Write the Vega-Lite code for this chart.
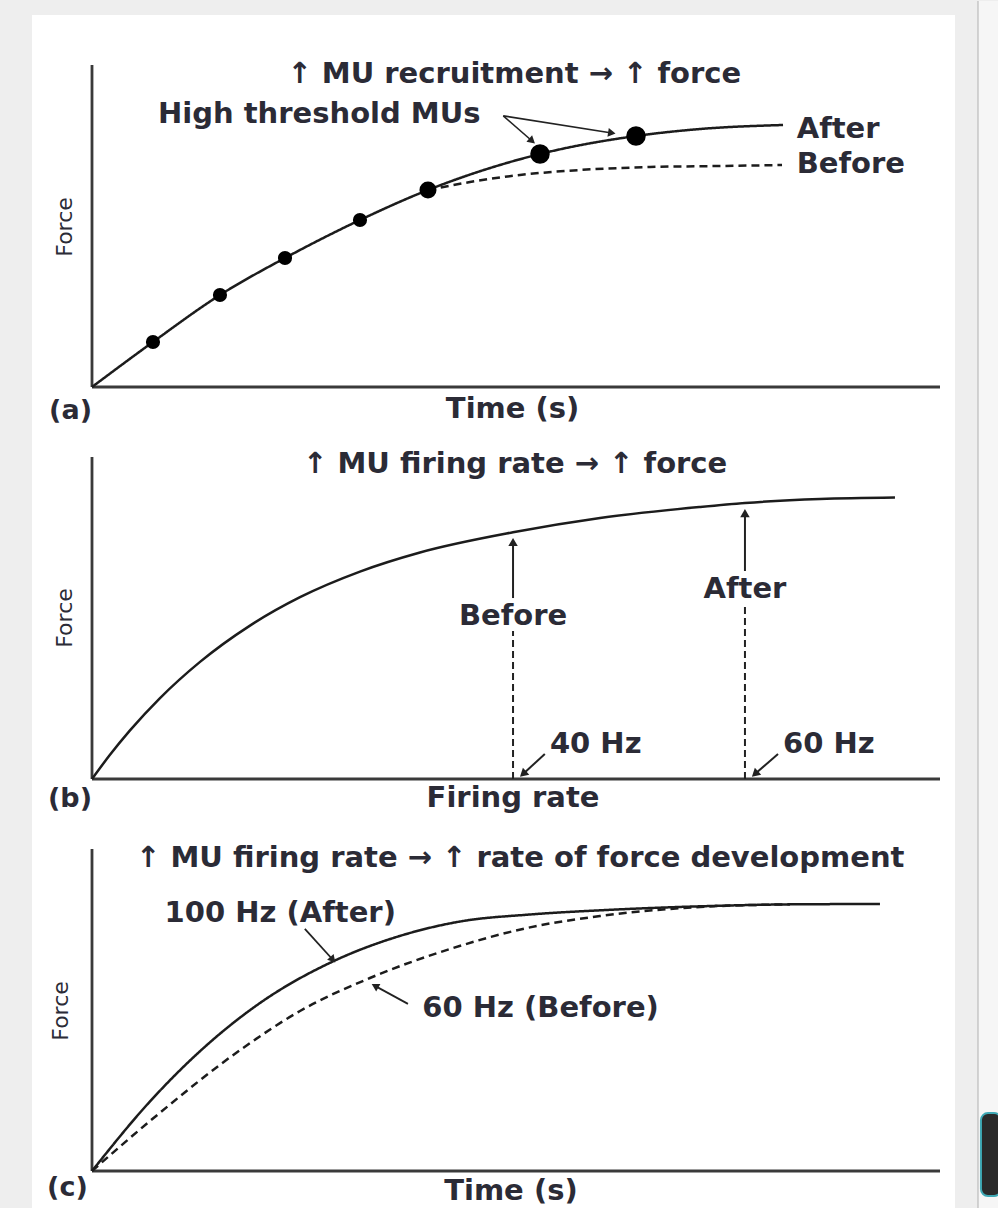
{
  "$schema": "https://vega.github.io/schema/vega-lite/v6.json",
  "background": "#eeeeee",
  "padding": 0,
  "bounds": "flush",
  "spacing": 70,
  "config": {"view": {"stroke": null}},
  "datasets": {
    "page": [{"x": -10.849, "y": 119.87, "x2": 106.84, "y2": -255.28}],
    "strip": [{"x": 104.48, "y": 119.87, "x2": 106.84, "y2": -255.28}],
    "strip_edge": [{"x": 104.48, "y": 119.87, "x2": 104.48, "y2": -255.28}],
    "a_card": [{"x": -7.075, "y": 115.53, "x2": 101.77, "y2": -21.74}],
    "b_card": [{"x": -7.075, "y": 100, "x2": 101.77, "y2": -21.74}],
    "c_card": [{"x": -7.075, "y": 100, "x2": 101.77, "y2": -11.79}],
    "c_button": [{"x": 104.83, "y": 18.0, "x2": 107.2, "y2": -7.76}],
    "frame": [{"x": 0, "y": 0, "x2": 100, "y2": 0}, {"x": 0, "y": 0, "x2": 0, "y2": 100}],
    "a_curves": [
      {"series": "After", "x": 0, "y": 0},
      {"series": "After", "x": 7.19, "y": 13.98},
      {"series": "After", "x": 15.09, "y": 28.57},
      {"series": "After", "x": 22.76, "y": 40.06},
      {"series": "After", "x": 31.6, "y": 51.86},
      {"series": "After", "x": 39.62, "y": 61.18},
      {"series": "After", "x": 52.83, "y": 72.36},
      {"series": "After", "x": 64.15, "y": 77.95},
      {"series": "After", "x": 71.7, "y": 80.12},
      {"series": "After", "x": 81.49, "y": 81.37},
      {"series": "Before", "x": 39.62, "y": 61.18},
      {"series": "Before", "x": 44.58, "y": 63.66},
      {"series": "Before", "x": 50.47, "y": 65.84},
      {"series": "Before", "x": 57.55, "y": 67.39},
      {"series": "Before", "x": 65.8, "y": 68.32},
      {"series": "Before", "x": 74.06, "y": 68.63},
      {"series": "Before", "x": 81.37, "y": 68.94}
    ],
    "a_dots": [
      {"x": 7.19, "y": 13.98, "threshold": "low"},
      {"x": 15.09, "y": 28.57, "threshold": "low"},
      {"x": 22.76, "y": 40.06, "threshold": "low"},
      {"x": 31.6, "y": 51.86, "threshold": "low"},
      {"x": 39.62, "y": 61.18, "threshold": "moderate"},
      {"x": 52.83, "y": 72.36, "threshold": "high"},
      {"x": 64.15, "y": 77.95, "threshold": "high"}
    ],
    "a_arrows": [
      {"x": 48.5, "y": 84.2, "x2": 51.9, "y2": 76.4, "angle": 131},
      {"x": 48.5, "y": 84.2, "x2": 61.3, "y2": 78.9, "angle": 99}
    ],
    "a_text": [
      {"role": "heading", "label": "↑ MU recruitment → ↑ force", "x": 49.8, "y": 97.2},
      {"role": "annotation", "label": "High threshold MUs", "x": 26.8, "y": 84.8},
      {"role": "end-label", "label": "After", "x": 83.1, "y": 80.1},
      {"role": "end-label", "label": "Before", "x": 83.1, "y": 69.3},
      {"role": "axis-title", "label": "Time (s)", "x": 49.6, "y": -6.8},
      {"role": "panel-label", "label": "(a)", "x": 0, "y": -7.4},
      {"role": "y-title", "label": "Force", "x": -3.2, "y": 49.7}
    ],
    "b_curve": [
      {"x": 0, "y": 0}, {"x": 2.12, "y": 7.52}, {"x": 4.48, "y": 15.09}, {"x": 8.02, "y": 25.12},
      {"x": 12.74, "y": 36.37}, {"x": 18.63, "y": 47.64}, {"x": 24.53, "y": 56.46}, {"x": 31.6, "y": 64.41},
      {"x": 38.68, "y": 70.34}, {"x": 49.65, "y": 76.61}, {"x": 59.91, "y": 81.06}, {"x": 71.7, "y": 84.47},
      {"x": 77.0, "y": 85.71}, {"x": 85.85, "y": 86.96}, {"x": 94.69, "y": 87.42}
    ],
    "b_guides": [
      {"x": 49.65, "y": 0, "x2": 49.65, "y2": 46.0},
      {"x": 77.0, "y": 0, "x2": 77.0, "y2": 54.3}
    ],
    "b_arrows": [
      {"x": 49.65, "y": 56.2, "x2": 49.65, "y2": 73.6, "angle": 0},
      {"x": 77.0, "y": 64.6, "x2": 77.0, "y2": 82.6, "angle": 0},
      {"x": 53.4, "y": 7.76, "x2": 50.83, "y2": 1.55, "angle": 228},
      {"x": 80.9, "y": 7.76, "x2": 78.18, "y2": 1.55, "angle": 228}
    ],
    "b_text": [
      {"role": "heading", "label": "↑ MU firing rate → ↑ force", "x": 49.9, "y": 97.8},
      {"role": "annotation", "label": "Before", "x": 49.65, "y": 50.6},
      {"role": "annotation", "label": "After", "x": 77.0, "y": 59.0},
      {"role": "value-label", "label": "40 Hz", "x": 54.0, "y": 10.9},
      {"role": "value-label", "label": "60 Hz", "x": 81.5, "y": 10.9},
      {"role": "axis-title", "label": "Firing rate", "x": 49.65, "y": -5.9},
      {"role": "panel-label", "label": "(b)", "x": 0, "y": -6.2},
      {"role": "y-title", "label": "Force", "x": -3.2, "y": 50}
    ],
    "c_curves": [
      {"series": "After", "x": 0, "y": 0},
      {"series": "After", "x": 6.84, "y": 21.61},
      {"series": "After", "x": 12.97, "y": 37.76},
      {"series": "After", "x": 19.81, "y": 52.17},
      {"series": "After", "x": 28.42, "y": 65.09},
      {"series": "After", "x": 36.32, "y": 73.01},
      {"series": "After", "x": 43.4, "y": 77.48},
      {"series": "After", "x": 51.65, "y": 79.66},
      {"series": "After", "x": 59.91, "y": 80.96},
      {"series": "After", "x": 71.7, "y": 82.2},
      {"series": "After", "x": 83.49, "y": 82.83},
      {"series": "After", "x": 92.92, "y": 82.92},
      {"series": "Before", "x": 0, "y": 0},
      {"series": "Before", "x": 6.84, "y": 15.53},
      {"series": "Before", "x": 17.81, "y": 38.2},
      {"series": "Before", "x": 24.53, "y": 49.69},
      {"series": "Before", "x": 32.78, "y": 59.94},
      {"series": "Before", "x": 42.22, "y": 68.94},
      {"series": "Before", "x": 51.3, "y": 75.47},
      {"series": "Before", "x": 59.91, "y": 79.19},
      {"series": "Before", "x": 71.7, "y": 81.99},
      {"series": "Before", "x": 82.31, "y": 82.83}
    ],
    "c_arrows": [
      {"x": 25.1, "y": 75.2, "x2": 28.4, "y2": 65.6, "angle": 139},
      {"x": 37.26, "y": 51.9, "x2": 33.37, "y2": 57.5, "angle": 299}
    ],
    "c_text": [
      {"role": "heading", "label": "↑ MU firing rate → ↑ rate of force development", "x": 50.5, "y": 97.2},
      {"role": "annotation", "label": "100 Hz (After)", "x": 22.2, "y": 80.1},
      {"role": "annotation", "label": "60 Hz (Before)", "x": 52.9, "y": 50.6},
      {"role": "axis-title", "label": "Time (s)", "x": 49.4, "y": -6.2},
      {"role": "panel-label", "label": "(c)", "x": -0.5, "y": -5.3},
      {"role": "y-title", "label": "Force", "x": -3.6, "y": 49.7}
    ]
  },
  "vconcat": [
    {
      "width": 848, "height": 322,
      "encoding": {
        "x": {"field": "x", "type": "quantitative", "scale": {"domain": [0, 100], "nice": false, "zero": false}, "axis": null},
        "y": {"field": "y", "type": "quantitative", "scale": {"domain": [0, 100], "nice": false, "zero": false}, "axis": null}
      },
      "layer": [
        {"data": {"name": "page"}, "mark": {"type": "rect", "color": "#eeeeee"}, "encoding": {"x2": {"field": "x2"}, "y2": {"field": "y2"}}},
        {"data": {"name": "strip"}, "mark": {"type": "rect", "color": "#f6f6f6"}, "encoding": {"x2": {"field": "x2"}, "y2": {"field": "y2"}}},
        {"data": {"name": "strip_edge"}, "mark": {"type": "rule", "color": "#c6c6c6", "strokeWidth": 1.5}, "encoding": {"x2": {"field": "x2"}, "y2": {"field": "y2"}}},
        {"data": {"name": "a_card"}, "mark": {"type": "rect", "color": "#ffffff"}, "encoding": {"x2": {"field": "x2"}, "y2": {"field": "y2"}}},
        {"data": {"name": "frame"}, "mark": {"type": "rule", "color": "#3a3a3a", "strokeWidth": 2.8}, "encoding": {"x2": {"field": "x2"}, "y2": {"field": "y2"}}},
        {"data": {"name": "a_curves"}, "mark": {"type": "line", "interpolate": "monotone", "color": "#1c1c1c", "strokeWidth": 2.5},
         "encoding": {"strokeDash": {"field": "series", "type": "nominal", "scale": {"domain": ["After", "Before"], "range": [[1, 0], [8, 5]]}, "legend": null}}},
        {"data": {"name": "a_dots"}, "mark": {"type": "circle", "color": "#000000", "opacity": 1},
         "encoding": {"size": {"field": "threshold", "type": "ordinal", "scale": {"domain": ["low", "moderate", "high"], "range": [200, 380, 750]}, "legend": null}}},
        {"data": {"name": "a_arrows"}, "mark": {"type": "rule", "color": "#222222", "strokeWidth": 1.6}, "encoding": {"x2": {"field": "x2"}, "y2": {"field": "y2"}}},
        {"data": {"name": "a_arrows"}, "mark": {"type": "point", "shape": "triangle-up", "filled": true, "color": "#222222", "opacity": 1, "size": 75},
         "encoding": {
           "x": {"field": "x2", "type": "quantitative", "scale": {"domain": [0, 100], "nice": false, "zero": false}, "axis": null},
           "y": {"field": "y2", "type": "quantitative", "scale": {"domain": [0, 100], "nice": false, "zero": false}, "axis": null},
           "angle": {"field": "angle", "type": "quantitative", "scale": null}}},
        {"data": {"name": "a_text"}, "transform": [{"filter": {"field": "role", "oneOf": ["heading", "annotation", "axis-title"]}}],
         "mark": {"type": "text", "font": "DejaVu Sans", "fontWeight": "bold", "fontSize": 29, "color": "#2b2b36", "align": "center", "baseline": "middle"},
         "encoding": {"text": {"field": "label"}}},
        {"data": {"name": "a_text"}, "transform": [{"filter": {"field": "role", "oneOf": ["end-label", "value-label"]}}],
         "mark": {"type": "text", "font": "DejaVu Sans", "fontWeight": "bold", "fontSize": 29, "color": "#2b2b36", "align": "left", "baseline": "middle"},
         "encoding": {"text": {"field": "label"}}},
        {"data": {"name": "a_text"}, "transform": [{"filter": {"field": "role", "equal": "panel-label"}}],
         "mark": {"type": "text", "font": "DejaVu Sans", "fontWeight": "bold", "fontSize": 27, "color": "#2b2b36", "align": "right", "baseline": "middle"},
         "encoding": {"text": {"field": "label"}}},
        {"data": {"name": "a_text"}, "transform": [{"filter": {"field": "role", "equal": "y-title"}}],
         "mark": {"type": "text", "font": "DejaVu Sans", "fontSize": 22, "color": "#2b2b36", "align": "center", "baseline": "middle", "angle": 270},
         "encoding": {"text": {"field": "label"}}}
      ]
    },
    {
      "width": 848, "height": 322,
      "encoding": {
        "x": {"field": "x", "type": "quantitative", "scale": {"domain": [0, 100], "nice": false, "zero": false}, "axis": null},
        "y": {"field": "y", "type": "quantitative", "scale": {"domain": [0, 100], "nice": false, "zero": false}, "axis": null}
      },
      "layer": [
        {"data": {"name": "b_card"}, "mark": {"type": "rect", "color": "#ffffff"}, "encoding": {"x2": {"field": "x2"}, "y2": {"field": "y2"}}},
        {"data": {"name": "frame"}, "mark": {"type": "rule", "color": "#3a3a3a", "strokeWidth": 2.8}, "encoding": {"x2": {"field": "x2"}, "y2": {"field": "y2"}}},
        {"data": {"name": "b_curve"}, "mark": {"type": "line", "interpolate": "monotone", "color": "#1c1c1c", "strokeWidth": 2.5}, "encoding": {}},
        {"data": {"name": "b_guides"}, "mark": {"type": "rule", "color": "#222222", "strokeWidth": 2, "strokeDash": [7, 4]}, "encoding": {"x2": {"field": "x2"}, "y2": {"field": "y2"}}},
        {"data": {"name": "b_arrows"}, "mark": {"type": "rule", "color": "#222222", "strokeWidth": 2}, "encoding": {"x2": {"field": "x2"}, "y2": {"field": "y2"}}},
        {"data": {"name": "b_arrows"}, "mark": {"type": "point", "shape": "triangle-up", "filled": true, "color": "#222222", "opacity": 1, "size": 90},
         "encoding": {
           "x": {"field": "x2", "type": "quantitative", "scale": {"domain": [0, 100], "nice": false, "zero": false}, "axis": null},
           "y": {"field": "y2", "type": "quantitative", "scale": {"domain": [0, 100], "nice": false, "zero": false}, "axis": null},
           "angle": {"field": "angle", "type": "quantitative", "scale": null}}},
        {"data": {"name": "b_text"}, "transform": [{"filter": {"field": "role", "oneOf": ["heading", "annotation", "axis-title"]}}],
         "mark": {"type": "text", "font": "DejaVu Sans", "fontWeight": "bold", "fontSize": 29, "color": "#2b2b36", "align": "center", "baseline": "middle"},
         "encoding": {"text": {"field": "label"}}},
        {"data": {"name": "b_text"}, "transform": [{"filter": {"field": "role", "oneOf": ["end-label", "value-label"]}}],
         "mark": {"type": "text", "font": "DejaVu Sans", "fontWeight": "bold", "fontSize": 29, "color": "#2b2b36", "align": "left", "baseline": "middle"},
         "encoding": {"text": {"field": "label"}}},
        {"data": {"name": "b_text"}, "transform": [{"filter": {"field": "role", "equal": "panel-label"}}],
         "mark": {"type": "text", "font": "DejaVu Sans", "fontWeight": "bold", "fontSize": 27, "color": "#2b2b36", "align": "right", "baseline": "middle"},
         "encoding": {"text": {"field": "label"}}},
        {"data": {"name": "b_text"}, "transform": [{"filter": {"field": "role", "equal": "y-title"}}],
         "mark": {"type": "text", "font": "DejaVu Sans", "fontSize": 22, "color": "#2b2b36", "align": "center", "baseline": "middle", "angle": 270},
         "encoding": {"text": {"field": "label"}}}
      ]
    },
    {
      "width": 848, "height": 322,
      "encoding": {
        "x": {"field": "x", "type": "quantitative", "scale": {"domain": [0, 100], "nice": false, "zero": false}, "axis": null},
        "y": {"field": "y", "type": "quantitative", "scale": {"domain": [0, 100], "nice": false, "zero": false}, "axis": null}
      },
      "layer": [
        {"data": {"name": "c_card"}, "mark": {"type": "rect", "color": "#ffffff"}, "encoding": {"x2": {"field": "x2"}, "y2": {"field": "y2"}}},
        {"data": {"name": "c_button"}, "mark": {"type": "rect", "color": "#2a2a2a", "stroke": "#3fa9b5", "strokeWidth": 2, "cornerRadius": 7}, "encoding": {"x2": {"field": "x2"}, "y2": {"field": "y2"}}},
        {"data": {"name": "frame"}, "mark": {"type": "rule", "color": "#3a3a3a", "strokeWidth": 2.8}, "encoding": {"x2": {"field": "x2"}, "y2": {"field": "y2"}}},
        {"data": {"name": "c_curves"}, "mark": {"type": "line", "interpolate": "monotone", "color": "#1c1c1c", "strokeWidth": 2.5},
         "encoding": {"strokeDash": {"field": "series", "type": "nominal", "scale": {"domain": ["After", "Before"], "range": [[1, 0], [8, 5]]}, "legend": null}}},
        {"data": {"name": "c_arrows"}, "mark": {"type": "rule", "color": "#222222", "strokeWidth": 1.8}, "encoding": {"x2": {"field": "x2"}, "y2": {"field": "y2"}}},
        {"data": {"name": "c_arrows"}, "mark": {"type": "point", "shape": "triangle-up", "filled": true, "color": "#222222", "opacity": 1, "size": 75},
         "encoding": {
           "x": {"field": "x2", "type": "quantitative", "scale": {"domain": [0, 100], "nice": false, "zero": false}, "axis": null},
           "y": {"field": "y2", "type": "quantitative", "scale": {"domain": [0, 100], "nice": false, "zero": false}, "axis": null},
           "angle": {"field": "angle", "type": "quantitative", "scale": null}}},
        {"data": {"name": "c_text"}, "transform": [{"filter": {"field": "role", "oneOf": ["heading", "annotation", "axis-title"]}}],
         "mark": {"type": "text", "font": "DejaVu Sans", "fontWeight": "bold", "fontSize": 29, "color": "#2b2b36", "align": "center", "baseline": "middle"},
         "encoding": {"text": {"field": "label"}}},
        {"data": {"name": "c_text"}, "transform": [{"filter": {"field": "role", "equal": "panel-label"}}],
         "mark": {"type": "text", "font": "DejaVu Sans", "fontWeight": "bold", "fontSize": 27, "color": "#2b2b36", "align": "right", "baseline": "middle"},
         "encoding": {"text": {"field": "label"}}},
        {"data": {"name": "c_text"}, "transform": [{"filter": {"field": "role", "equal": "y-title"}}],
         "mark": {"type": "text", "font": "DejaVu Sans", "fontSize": 22, "color": "#2b2b36", "align": "center", "baseline": "middle", "angle": 270},
         "encoding": {"text": {"field": "label"}}}
      ]
    }
  ]
}
